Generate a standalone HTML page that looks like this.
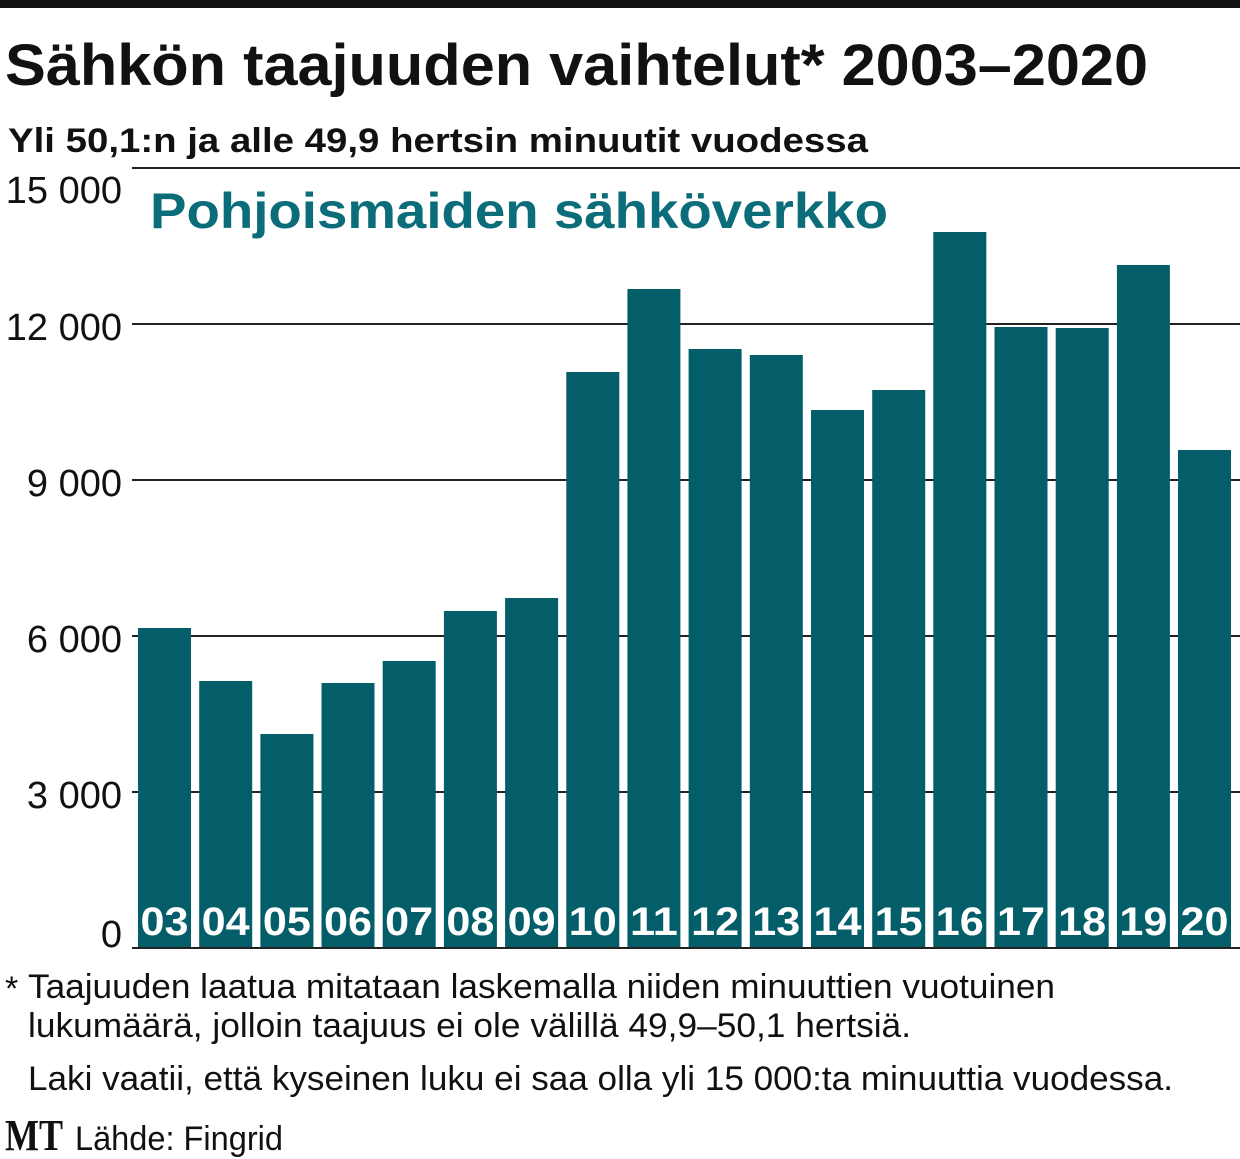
<!DOCTYPE html>
<html><head><meta charset="utf-8"><style>html,body{margin:0;padding:0;background:#fff}svg{display:block}</style></head>
<body>
<svg width="1240" height="1159" viewBox="0 0 1240 1159" xmlns="http://www.w3.org/2000/svg" font-family="'Liberation Sans', sans-serif">
<rect x="0" y="0" width="1240" height="8" fill="#111"/>
<text x="5" y="85" font-size="58" font-weight="bold" fill="#111" textLength="1143" lengthAdjust="spacingAndGlyphs">Sähkön taajuuden vaihtelut* 2003–2020</text>
<text x="8" y="152" font-size="34" font-weight="bold" fill="#111" textLength="860" lengthAdjust="spacingAndGlyphs">Yli 50,1:n ja alle 49,9 hertsin minuutit vuodessa</text>
<g stroke="#222" stroke-width="2">
<line x1="132" y1="168" x2="1240" y2="168"/>
<line x1="132" y1="324" x2="1240" y2="324"/>
<line x1="132" y1="480" x2="1240" y2="480"/>
<line x1="132" y1="636" x2="1240" y2="636"/>
<line x1="132" y1="792" x2="1240" y2="792"/>
<line x1="132" y1="948" x2="1240" y2="948"/>
</g>
<g font-size="38" fill="#111" text-anchor="end">
<text x="122" y="203">15 000</text>
<text x="122" y="340">12 000</text>
<text x="122" y="496">9 000</text>
<text x="122" y="652">6 000</text>
<text x="122" y="808">3 000</text>
<text x="122" y="947">0</text>
</g>
<text x="150" y="228" font-size="50" font-weight="bold" fill="#0b6c7a" textLength="738" lengthAdjust="spacingAndGlyphs">Pohjoismaiden sähköverkko</text>
<g fill="#035e69">
<rect x="138" y="628" width="53" height="319"/>
<rect x="199.2" y="681" width="53" height="266"/>
<rect x="260.4" y="734" width="53" height="213"/>
<rect x="321.5" y="683" width="53" height="264"/>
<rect x="382.7" y="661" width="53" height="286"/>
<rect x="443.9" y="611" width="53" height="336"/>
<rect x="505.1" y="598" width="53" height="349"/>
<rect x="566.3" y="372" width="53" height="575"/>
<rect x="627.4" y="289" width="53" height="658"/>
<rect x="688.6" y="349" width="53" height="598"/>
<rect x="749.8" y="355" width="53" height="592"/>
<rect x="811" y="410" width="53" height="537"/>
<rect x="872.2" y="390" width="53" height="557"/>
<rect x="933.3" y="232" width="53" height="715"/>
<rect x="994.5" y="327" width="53" height="620"/>
<rect x="1055.7" y="328" width="53" height="619"/>
<rect x="1116.9" y="265" width="53" height="682"/>
<rect x="1178" y="450" width="53" height="497"/>
</g>
<g font-size="40" font-weight="bold" fill="#fff" text-anchor="middle">
<text x="164.5" y="935" textLength="48" lengthAdjust="spacingAndGlyphs">03</text>
<text x="225.7" y="935" textLength="48" lengthAdjust="spacingAndGlyphs">04</text>
<text x="286.9" y="935" textLength="48" lengthAdjust="spacingAndGlyphs">05</text>
<text x="348" y="935" textLength="48" lengthAdjust="spacingAndGlyphs">06</text>
<text x="409.2" y="935" textLength="48" lengthAdjust="spacingAndGlyphs">07</text>
<text x="470.4" y="935" textLength="48" lengthAdjust="spacingAndGlyphs">08</text>
<text x="531.6" y="935" textLength="48" lengthAdjust="spacingAndGlyphs">09</text>
<text x="592.8" y="935" textLength="48" lengthAdjust="spacingAndGlyphs">10</text>
<text x="653.9" y="935" textLength="48" lengthAdjust="spacingAndGlyphs">11</text>
<text x="715.1" y="935" textLength="48" lengthAdjust="spacingAndGlyphs">12</text>
<text x="776.3" y="935" textLength="48" lengthAdjust="spacingAndGlyphs">13</text>
<text x="837.5" y="935" textLength="48" lengthAdjust="spacingAndGlyphs">14</text>
<text x="898.7" y="935" textLength="48" lengthAdjust="spacingAndGlyphs">15</text>
<text x="959.8" y="935" textLength="48" lengthAdjust="spacingAndGlyphs">16</text>
<text x="1021" y="935" textLength="48" lengthAdjust="spacingAndGlyphs">17</text>
<text x="1082.2" y="935" textLength="48" lengthAdjust="spacingAndGlyphs">18</text>
<text x="1143.4" y="935" textLength="48" lengthAdjust="spacingAndGlyphs">19</text>
<text x="1204.5" y="935" textLength="48" lengthAdjust="spacingAndGlyphs">20</text>
</g>
<g font-size="34" fill="#111">
<text x="5" y="1000">*</text>
<text x="28" y="998" textLength="1027" lengthAdjust="spacingAndGlyphs">Taajuuden laatua mitataan laskemalla niiden minuuttien vuotuinen</text>
<text x="28" y="1037" textLength="883" lengthAdjust="spacingAndGlyphs">lukumäärä, jolloin taajuus ei ole välillä 49,9–50,1 hertsiä.</text>
<text x="28" y="1090" textLength="1145" lengthAdjust="spacingAndGlyphs">Laki vaatii, että kyseinen luku ei saa olla yli 15 000:ta minuuttia vuodessa.</text>
</g>
<text x="5" y="1150" font-family="'Liberation Serif', serif" font-size="44" font-weight="bold" fill="#111" textLength="58" lengthAdjust="spacingAndGlyphs">MT</text>
<text x="75" y="1150" font-size="34" fill="#111" textLength="208" lengthAdjust="spacingAndGlyphs">Lähde: Fingrid</text>
</svg>
</body></html>
